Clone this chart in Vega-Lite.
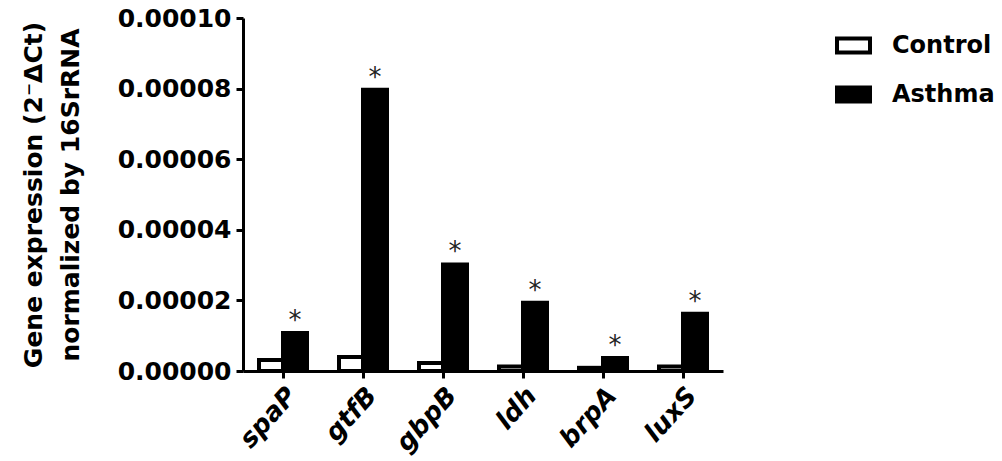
{
  "$schema": "https://vega.github.io/schema/vega-lite/v6.json",
  "autosize": {"type": "none"},
  "padding": {"left": 243, "top": 18, "right": 279, "bottom": 90},
  "width": 480,
  "height": 353,
  "background": "white",
  "config": {
    "font": "DejaVu Sans",
    "view": {"stroke": null},
    "axis": {"grid": false, "domainColor": "black", "domainWidth": 3, "tickColor": "black", "tickWidth": 3, "tickSize": 7, "labelColor": "black", "labelFont": "DejaVu Sans", "labelFontWeight": "bold", "labelFontSize": 25, "titleColor": "black", "titleFont": "DejaVu Sans", "titleFontWeight": "bold", "titleFontSize": 25}
  },
  "data": {
    "values": [
      {"Gene": "spaP", "Group": "Control", "Value": 0.0000031, "sig": ""},
      {"Gene": "spaP", "Group": "Asthma", "Value": 0.0000108, "sig": "*"},
      {"Gene": "gtfB", "Group": "Control", "Value": 0.0000040, "sig": ""},
      {"Gene": "gtfB", "Group": "Asthma", "Value": 0.0000797, "sig": "*"},
      {"Gene": "gbpB", "Group": "Control", "Value": 0.0000023, "sig": ""},
      {"Gene": "gbpB", "Group": "Asthma", "Value": 0.0000302, "sig": "*"},
      {"Gene": "ldh", "Group": "Control", "Value": 0.0000013, "sig": ""},
      {"Gene": "ldh", "Group": "Asthma", "Value": 0.0000193, "sig": "*"},
      {"Gene": "brpA", "Group": "Control", "Value": 0.0000009, "sig": ""},
      {"Gene": "brpA", "Group": "Asthma", "Value": 0.0000037, "sig": "*"},
      {"Gene": "luxS", "Group": "Control", "Value": 0.0000013, "sig": ""},
      {"Gene": "luxS", "Group": "Asthma", "Value": 0.0000162, "sig": "*"}
    ]
  },
  "encoding": {
    "x": {
      "field": "Gene", "type": "nominal", "sort": null,
      "scale": {"paddingInner": 0.4, "paddingOuter": 0.2},
      "axis": {"title": null, "labelAngle": -48, "labelAlign": "right", "labelBaseline": "middle", "labelFontStyle": "italic", "labelFontSize": 26, "labelPadding": 13, "labelOffset": 9}
    },
    "xOffset": {"field": "Group", "type": "nominal", "scale": {"domain": ["Control", "Asthma"]}},
    "y": {
      "field": "Value", "type": "quantitative",
      "scale": {"domain": [0, 0.0001], "nice": false},
      "axis": {"title": ["Gene expression (2⁻ΔCt)", "normalized by 16SrRNA"], "titleLineHeight": 37, "titlePadding": 34, "values": [0, 0.00002, 0.00004, 0.00006, 0.00008, 0.0001], "format": ".5f", "labelPadding": 5}
    }
  },
  "layer": [
    {
      "mark": {"type": "bar", "stroke": "black", "strokeWidth": 4},
      "encoding": {
        "fill": {
          "field": "Group", "type": "nominal",
          "scale": {"domain": ["Control", "Asthma"], "range": ["white", "black"]},
          "legend": {
            "title": null, "orient": "none", "legendX": 592, "legendY": 9,
            "symbolType": "M-1,-0.424H1V0.424H-1Z", "symbolSize": 1089,
            "symbolStrokeColor": "black", "symbolStrokeWidth": 4,
            "labelFont": "DejaVu Sans", "labelFontWeight": "bold", "labelFontSize": 24, "labelColor": "black",
            "labelOffset": 20, "rowPadding": 15
          }
        }
      }
    },
    {
      "transform": [{"filter": "datum.sig == '*'"}],
      "mark": {"type": "text", "fontSize": 26, "fontWeight": "normal", "color": "#222", "baseline": "alphabetic", "dy": -4},
      "encoding": {"text": {"field": "sig"}}
    }
  ]
}
